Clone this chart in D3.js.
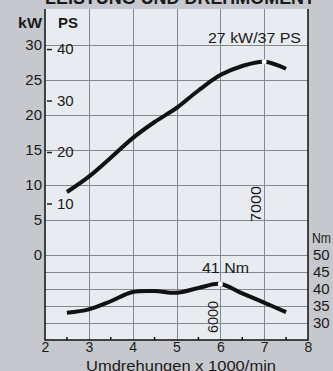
<!DOCTYPE html>
<html>
<head>
<meta charset="utf-8">
<script src="https://cdn.jsdelivr.net/npm/d3@7"></script>
<style>
  html, body { margin: 0; padding: 0; background: #c6c8cd; }
  svg { display: block; font-family: "Liberation Sans", Arial, sans-serif; }
</style>
</head>
<body>
<div id="chart"></div>
<script>
// engine speed (x 1000/min)
const rpm = [2.5, 3, 3.5, 4, 4.5, 5, 5.5, 6, 6.5, 7, 7.5];
// power in kW
const powerKw = [9.0, 11.2, 13.9, 16.7, 19.0, 21.0, 23.5, 25.7, 27.0, 27.6, 26.6];
// torque in Nm
const torqueNm = [33.0, 34.0, 36.4, 39.1, 39.4, 38.9, 40.3, 41.5, 38.7, 36.0, 33.2];

const rpmTicks = [2, 3, 4, 5, 6, 7, 8];
const kwTicks = [0, 5, 10, 15, 20, 25, 30];
const psTicks = [10, 20, 30, 40];
const nmTicks = [30, 35, 40, 45, 50];

const width = 333,
    height = 371;

const plotLeft = 45, plotRight = 308, plotTop = 9, plotBottom = 340;

const x = d3.scaleLinear().domain([2, 8]).range([plotLeft, plotRight]);
const yKw = d3.scaleLinear().domain([0, 30]).range([255, 45]);
const yNm = d3.scaleLinear().domain([25, 50]).range([plotBottom, 255]);
const KW_PER_PS = 0.7355;

const svg = d3.select("#chart").append("svg")
    .attr("width", width)
    .attr("height", height);

// title, mostly cut off at the top (as in the scan)
svg.append("text")
    .attr("x", 45)
    .attr("y", 4)
    .attr("textLength", 270)
    .attr("lengthAdjust", "spacingAndGlyphs")
    .style("font-size", "18px")
    .style("font-weight", "bold")
    .style("fill", "#1a1a1a")
    .text("LEISTUNG UND DREHMOMENT");

// plot background
svg.append("rect")
    .attr("x", plotLeft)
    .attr("y", plotTop)
    .attr("width", plotRight - plotLeft)
    .attr("height", plotBottom - plotTop)
    .style("fill", "#e8ebef");

const grid = svg.append("g")
    .style("stroke", "#858890")
    .style("stroke-width", 1);

grid.selectAll(".vg")
    .data(rpmTicks.slice(1, -1))
  .enter().append("line")
    .attr("x1", d => Math.round(x(d)) + 0.5)
    .attr("x2", d => Math.round(x(d)) + 0.5)
    .attr("y1", plotTop)
    .attr("y2", plotBottom);

grid.selectAll(".hk")
    .data(kwTicks)
  .enter().append("line")
    .attr("x1", plotLeft)
    .attr("x2", plotRight)
    .attr("y1", d => Math.round(yKw(d)) + 0.5)
    .attr("y2", d => Math.round(yKw(d)) + 0.5);

grid.selectAll(".hn")
    .data(nmTicks.slice(0, -1))
  .enter().append("line")
    .attr("x1", plotLeft)
    .attr("x2", plotRight)
    .attr("y1", d => Math.round(yNm(d)) + 0.5)
    .attr("y2", d => Math.round(yNm(d)) + 0.5);

// frame: left, right and bottom
svg.append("path")
    .attr("d", `M${plotLeft},${plotTop}V${plotBottom}H${plotRight}V${plotTop}`)
    .style("fill", "none")
    .style("stroke", "#111")
    .style("stroke-width", 1.5);

// minor ticks at half steps
svg.selectAll(".minor")
    .data(d3.range(2.5, 8, 1))
  .enter().append("line")
    .attr("x1", d => x(d))
    .attr("x2", d => x(d))
    .attr("y1", plotBottom)
    .attr("y2", plotBottom - 3)
    .style("stroke", "#111")
    .style("stroke-width", 1.5);

// axes
const fontStyle = (sel, size) => sel.selectAll("text")
    .style("font-size", (size || 15) + "px")
    .style("fill", "#1a1a1a")
    .style("font-family", "'Liberation Sans', Arial, sans-serif");

const xAxis = svg.append("g")
    .attr("transform", `translate(0,${plotBottom})`)
    .call(d3.axisBottom(x).tickValues(rpmTicks).tickFormat(d3.format("d"))
      .tickSize(0).tickPadding(2));
xAxis.select(".domain").remove();
xAxis.call(fontStyle, 14);

const kwAxis = svg.append("g")
    .attr("transform", `translate(${plotLeft - 2},0)`)
    .call(d3.axisLeft(yKw).tickValues(kwTicks).tickSize(0).tickPadding(1));
kwAxis.select(".domain").remove();
kwAxis.call(fontStyle);

const psAxis = svg.append("g")
    .attr("transform", `translate(${plotLeft + 2},0)`)
    .call(d3.axisRight(d3.scaleLinear()
        .domain([0, 40])
        .range([yKw(0), yKw(40 * KW_PER_PS)]))
      .tickValues(psTicks).tickSize(5).tickPadding(5));
psAxis.select(".domain").remove();
psAxis.selectAll("line").style("stroke", "#222").style("stroke-width", 1.5);
psAxis.call(fontStyle);

const nmAxis = svg.append("g")
    .attr("transform", `translate(${plotRight + 2},0)`)
    .call(d3.axisRight(yNm).tickValues(nmTicks).tickSize(0).tickPadding(3));
nmAxis.select(".domain").remove();
nmAxis.call(fontStyle);

// unit labels
const label = (tx, ty, t, opts = {}) => svg.append("text")
    .attr("x", tx)
    .attr("y", ty)
    .attr("text-anchor", opts.anchor || "start")
    .attr("transform", opts.rotate ? `rotate(-90,${tx},${ty})` : null)
    .attr("textLength", opts.len || null)
    .attr("lengthAdjust", opts.len ? "spacingAndGlyphs" : null)
    .style("font-size", (opts.size || 15) + "px")
    .style("font-weight", opts.bold ? "bold" : "normal")
    .style("fill", "#1a1a1a")
    .text(t);

label(30, 28, "kW", { anchor: "middle", bold: true, len: 24 });
label(68, 28, "PS", { anchor: "middle", bold: true, len: 20 });
label(312, 243, "Nm", { size: 14, len: 19 });
label(181, 371, "Umdrehungen x 1000/min", { anchor: "middle", size: 14, len: 190 });

// curves
const powerLine = d3.line().curve(d3.curveCatmullRom)
    .x((d, i) => x(rpm[i]))
    .y(d => yKw(d));
svg.append("path")
    .datum(powerKw)
    .attr("d", powerLine)
    .style("fill", "none")
    .style("stroke", "#111")
    .style("stroke-width", 4);

const torqueLine = d3.line().curve(d3.curveCatmullRom)
    .x((d, i) => x(rpm[i]))
    .y(d => yNm(d));
svg.append("path")
    .datum(torqueNm)
    .attr("d", torqueLine)
    .style("fill", "none")
    .style("stroke", "#111")
    .style("stroke-width", 4);

// peak markers
const iPower = powerKw.indexOf(d3.max(powerKw));
const iTorque = torqueNm.indexOf(d3.max(torqueNm));
svg.append("circle")
    .attr("cx", x(rpm[iPower]))
    .attr("cy", yKw(powerKw[iPower]))
    .attr("r", 2.5)
    .style("fill", "#fff");
svg.append("circle")
    .attr("cx", x(rpm[iTorque]))
    .attr("cy", yNm(torqueNm[iTorque]))
    .attr("r", 2.5)
    .style("fill", "#fff");

// annotations
label(208, 43, "27 kW/37 PS", { len: 93 });
label(202, 273, "41 Nm", { len: 47 });
label(x(7) - 3, 204, "7000", { anchor: "middle", rotate: true, size: 14, len: 36 });
label(x(6) - 2, 317, "6000", { anchor: "middle", rotate: true, size: 14, len: 32 });
</script>
</body>
</html>
